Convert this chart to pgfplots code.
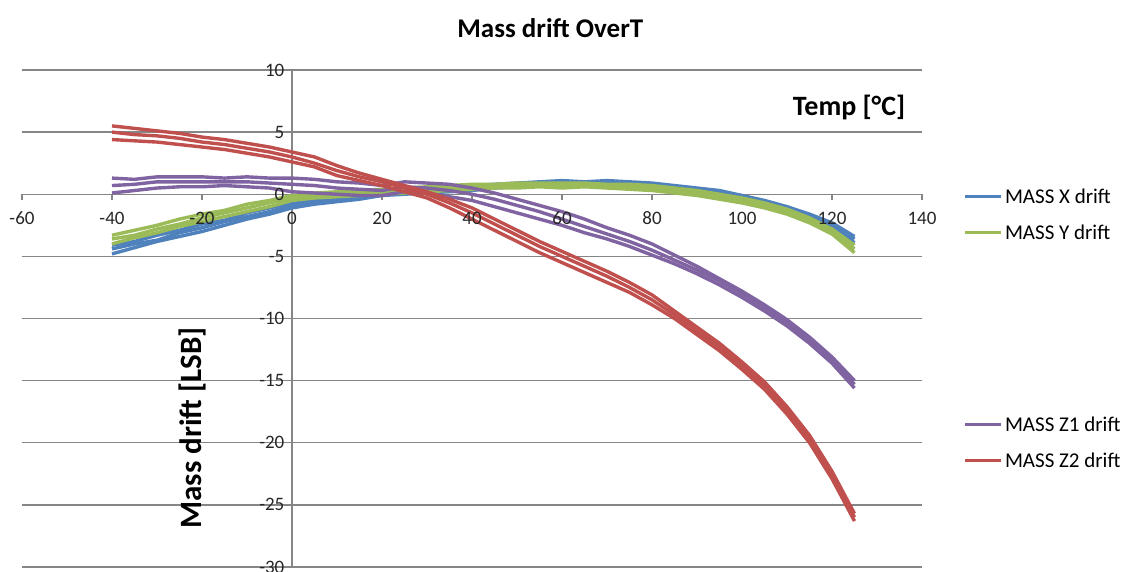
\documentclass[border=0pt]{standalone}
\usepackage{pgfplots}
\usepackage{pgfplotstable}
\pgfplotsset{compat=1.18}
\usepackage{fontspec}
\setmainfont{Carlito}
\definecolor{xblue}{HTML}{4F81BD}
\definecolor{ygreen}{HTML}{9BBB59}
\definecolor{zpurple}{HTML}{8064A2}
\definecolor{zred}{HTML}{C0504D}
\definecolor{axgray}{HTML}{868686}

\pgfplotstableread{
T a b c
-40 -4.1 -4.4 -4.8
-35 -3.8 -4.0 -4.3
-30 -3.3 -3.7 -3.8
-25 -2.9 -3.1 -3.4
-20 -2.4 -2.7 -3.0
-15 -2.1 -2.2 -2.5
-10 -1.5 -1.8 -2.0
-5 -1.1 -1.4 -1.6
0 -0.7 -0.9 -1.1
5 -0.5 -0.6 -0.8
10 -0.2 -0.4 -0.6
15 0.0 -0.2 -0.4
20 0.3 0.1 -0.1
25 0.4 0.2 0.0
30 0.5 0.3 0.1
35 0.6 0.4 0.2
40 0.7 0.5 0.3
45 0.8 0.6 0.5
50 0.9 0.7 0.6
55 1.0 0.8 0.7
60 1.1 0.9 0.7
65 1.0 0.9 0.8
70 1.1 0.9 0.7
75 1.0 0.8 0.7
80 0.9 0.7 0.6
85 0.7 0.5 0.4
90 0.5 0.3 0.2
95 0.3 0.1 -0.1
100 -0.1 -0.3 -0.4
105 -0.5 -0.7 -0.8
110 -1.0 -1.2 -1.4
115 -1.6 -1.8 -2.0
120 -2.3 -2.5 -2.7
125 -3.4 -3.6 -3.9
}\dataX

\pgfplotstableread{
T a b c
-40 -3.3 -3.6 -4.0
-35 -2.9 -3.3 -3.5
-30 -2.5 -2.8 -3.1
-25 -2.0 -2.4 -2.6
-20 -1.6 -1.9 -2.2
-15 -1.3 -1.5 -1.8
-10 -0.8 -1.1 -1.4
-5 -0.5 -0.7 -1.0
0 -0.1 -0.3 -0.5
5 0.1 -0.1 -0.3
10 0.2 0.0 -0.2
15 0.3 0.1 -0.1
20 0.4 0.2 0.0
25 0.5 0.3 0.1
30 0.6 0.4 0.2
35 0.7 0.5 0.3
40 0.8 0.6 0.4
45 0.8 0.6 0.5
50 0.9 0.7 0.5
55 0.9 0.7 0.6
60 0.9 0.7 0.5
65 0.9 0.7 0.6
70 0.8 0.6 0.5
75 0.8 0.6 0.4
80 0.7 0.5 0.3
85 0.5 0.3 0.1
90 0.3 0.1 -0.1
95 0.0 -0.2 -0.4
100 -0.3 -0.5 -0.7
105 -0.7 -0.9 -1.1
110 -1.2 -1.4 -1.6
115 -1.9 -2.1 -2.3
120 -2.8 -3.0 -3.2
125 -4.1 -4.4 -4.7
}\dataY

\pgfplotstableread{
T a b c
-40 1.3 0.7 0.1
-35 1.2 0.8 0.3
-30 1.4 1.0 0.5
-25 1.4 1.0 0.6
-20 1.4 1.0 0.6
-15 1.3 1.0 0.7
-10 1.4 1.0 0.6
-5 1.3 0.9 0.5
0 1.3 0.8 0.2
5 1.2 0.7 0.1
10 1.0 0.5 0.0
15 0.9 0.4 -0.1
20 0.7 0.3 -0.1
25 1.0 0.6 0.2
30 0.9 0.5 0.1
35 0.8 0.3 -0.2
40 0.5 0.0 -0.5
45 0.1 -0.4 -1.0
50 -0.4 -0.9 -1.5
55 -0.9 -1.4 -2.0
60 -1.4 -2.0 -2.5
65 -2.0 -2.6 -3.1
70 -2.7 -3.2 -3.6
75 -3.3 -3.8 -4.2
80 -4.0 -4.5 -4.9
85 -4.9 -5.3 -5.6
90 -5.8 -6.1 -6.4
95 -6.8 -7.0 -7.3
100 -7.8 -8.0 -8.3
105 -8.9 -9.1 -9.4
110 -10.1 -10.3 -10.6
115 -11.5 -11.7 -12.0
120 -13.1 -13.3 -13.6
125 -15.0 -15.3 -15.6
}\dataZa

\pgfplotstableread{
T a b c
-40 5.5 5.0 4.4
-35 5.3 4.8 4.3
-30 5.1 4.7 4.2
-25 4.9 4.5 4.0
-20 4.6 4.2 3.8
-15 4.4 4.0 3.6
-10 4.1 3.7 3.3
-5 3.8 3.4 3.0
0 3.4 3.0 2.6
5 3.0 2.5 2.2
10 2.3 1.9 1.5
15 1.7 1.4 1.1
20 1.2 1.0 0.7
25 0.7 0.5 0.2
30 0.2 0.0 -0.3
35 -0.4 -0.7 -1.1
40 -1.1 -1.5 -2.0
45 -2.0 -2.4 -2.9
50 -2.9 -3.3 -3.8
55 -3.8 -4.2 -4.7
60 -4.6 -5.0 -5.5
65 -5.4 -5.8 -6.3
70 -6.2 -6.6 -7.1
75 -7.1 -7.5 -7.9
80 -8.1 -8.5 -8.9
85 -9.4 -9.7 -10.0
90 -10.7 -11.0 -11.3
95 -12.0 -12.3 -12.6
100 -13.5 -13.8 -14.1
105 -15.1 -15.4 -15.7
110 -17.1 -17.4 -17.7
115 -19.4 -19.7 -20.0
120 -22.3 -22.6 -22.9
125 -25.7 -26.0 -26.3
}\dataZb

\pgfplotsset{
  chartgeom/.style={
    scale only axis, width=900pt, height=497pt,
    xmin=-60, xmax=140, ymin=-30, ymax=10,
    axis lines=middle,
    xtick={-60,-40,...,140}, ytick={-30,-25,...,10},
    hide obscured x ticks=false, hide obscured y ticks=false,
    legend image code/.code={\draw[##1] (0pt,0pt) -- (36pt,0pt);},
    legend cell align=left,
  },
  legsty/.style={draw=none, fill=none, anchor=west,
    font=\fontsize{21}{24}\selectfont, row sep=16pt, inner sep=0pt},
}

\begin{document}
\begin{tikzpicture}
\begin{axis}[
  name=ax, chartgeom,
  axis line style={draw=axgray, line width=1.3pt, -},
  ymajorgrids,
  grid style={draw=axgray, line width=1.3pt},
  tick align=outside, major tick length=6pt,
  tick style={draw=axgray, line width=1.3pt},
  xticklabels={}, yticklabels={},
  every axis title/.style={at={(rel axis cs:0.587,1)}, anchor=center, yshift=42pt, font=\bfseries\fontsize{27}{30}\selectfont},
  title={Mass drift OverT},
  every axis x label/.style={at={(rel axis cs:0.919,0.924)}, anchor=center, font=\bfseries\fontsize{28}{30}\selectfont},
  xlabel={Temp [°C]},
  every axis y label/.style={at={(rel axis cs:0.189,0.28)}, anchor=center, rotate=90, font=\bfseries\fontsize{31}{34}\selectfont},
  ylabel={Mass drift [LSB]},
  legend style={legsty, at={(rel axis cs:1.046,0.709)}},
  every axis plot/.append style={line width=3.4pt, line join=round},
]
\addplot[xblue] table[x=T,y=a]{\dataX};
\addlegendentry{MASS X drift}
\addplot[xblue, forget plot] table[x=T,y=b]{\dataX};
\addplot[xblue, forget plot] table[x=T,y=c]{\dataX};
\addplot[ygreen] table[x=T,y=a]{\dataY};
\addlegendentry{MASS Y drift}
\addplot[ygreen, forget plot] table[x=T,y=b]{\dataY};
\addplot[ygreen, forget plot] table[x=T,y=c]{\dataY};
\addplot[zpurple, forget plot] table[x=T,y=a]{\dataZa};
\addplot[zpurple, forget plot] table[x=T,y=b]{\dataZa};
\addplot[zpurple, forget plot] table[x=T,y=c]{\dataZa};
\addplot[zred, forget plot] table[x=T,y=a]{\dataZb};
\addplot[zred, forget plot] table[x=T,y=b]{\dataZb};
\addplot[zred, forget plot] table[x=T,y=c]{\dataZb};
\end{axis}
\begin{axis}[
  at={(ax.south west)}, anchor=south west, chartgeom,
  axis line style={draw=none},
  tick style={draw=none},
  /pgf/number format/assume math mode=true,
  tick label style={font=\fontsize{19}{21}\selectfont, text=black!85},
  xticklabel style={anchor=north, yshift=-12pt},
  yticklabel style={anchor=east, xshift=-2pt},
  legend style={legsty, at={(rel axis cs:1.046,0.25)}},
]
\addlegendimage{zpurple, line width=3.4pt}
\addlegendentry{MASS Z1 drift}
\addlegendimage{zred, line width=3.4pt}
\addlegendentry{MASS Z2 drift}
\end{axis}
\pgfresetboundingbox
\path[use as bounding box] (ax.south west) ++(-22pt,-5pt) rectangle ++(1123pt,572pt);
\end{tikzpicture}
\end{document}
